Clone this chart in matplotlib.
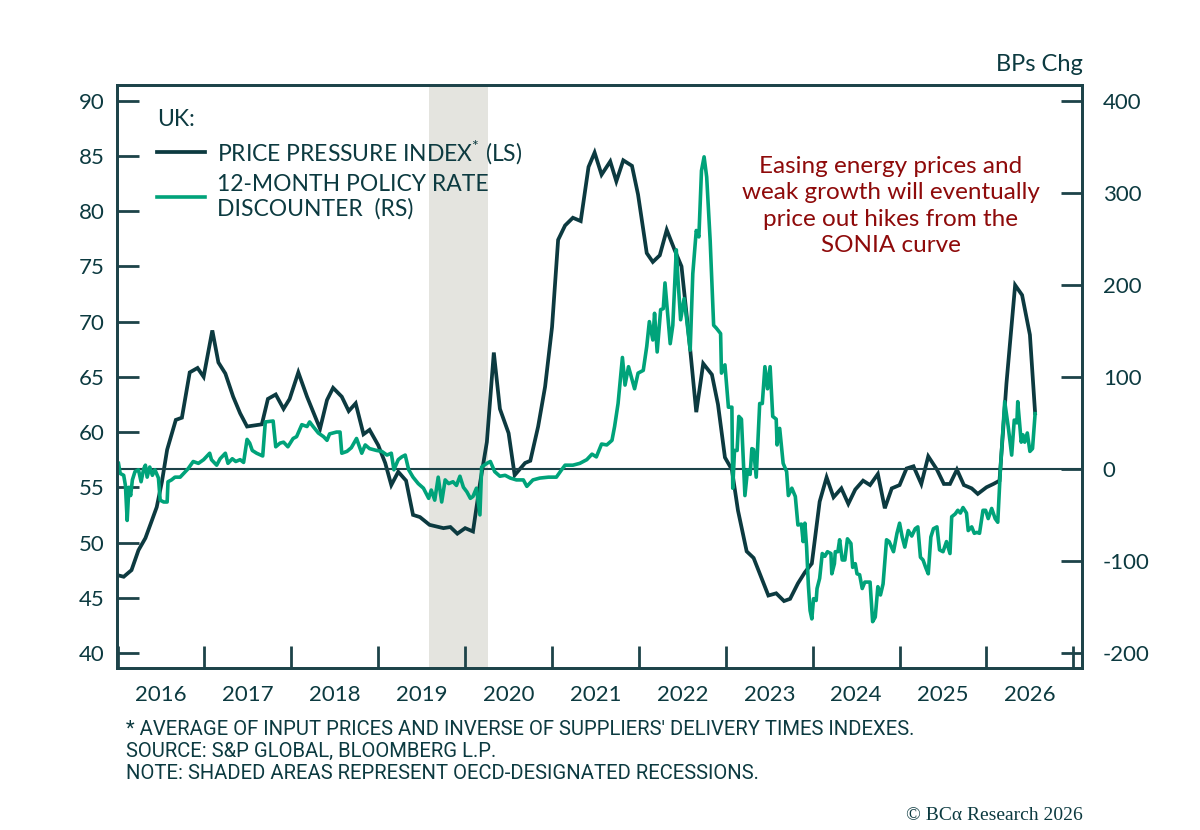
import matplotlib
matplotlib.use('Agg')
import matplotlib.pyplot as plt
import numpy as np

# --- data (decimal years) ---
ppi_t = [2016.02, 2016.07, 2016.16, 2016.24, 2016.32, 2016.39, 2016.45, 2016.51, 2016.57, 2016.67,
         2016.74, 2016.83, 2016.92, 2016.99, 2017.09, 2017.16, 2017.24, 2017.33, 2017.41, 2017.49,
         2017.66, 2017.73, 2017.82, 2017.91, 2017.98, 2018.08, 2018.18, 2018.33, 2018.41, 2018.48,
         2018.58, 2018.66, 2018.74, 2018.83, 2018.90, 2019.00, 2019.08, 2019.15, 2019.23, 2019.32,
         2019.40, 2019.48, 2019.59, 2019.75, 2019.83, 2019.91, 2020.00, 2020.09, 2020.17, 2020.25,
         2020.33, 2020.40, 2020.50, 2020.57, 2020.69, 2020.75, 2020.84, 2020.92, 2021.00, 2021.07,
         2021.15, 2021.24, 2021.33, 2021.42, 2021.49, 2021.57, 2021.67, 2021.74, 2021.82, 2021.92,
         2021.99, 2022.09, 2022.16, 2022.24, 2022.32, 2022.41, 2022.49, 2022.58, 2022.66, 2022.74,
         2022.84, 2022.91, 2022.99, 2023.07, 2023.14, 2023.24, 2023.32, 2023.40, 2023.49, 2023.58,
         2023.67, 2023.74, 2023.83, 2023.91, 2023.99, 2024.08, 2024.16, 2024.24, 2024.33, 2024.41,
         2024.49, 2024.58, 2024.66, 2024.75, 2024.83, 2024.91, 2025.00, 2025.08, 2025.16, 2025.25,
         2025.33, 2025.43, 2025.51, 2025.58, 2025.66, 2025.74, 2025.83, 2025.90, 2026.00, 2026.08,
         2026.15, 2026.23, 2026.33, 2026.41, 2026.50, 2026.56]
ppi_v = [47.0, 46.9, 47.5, 49.3, 50.4, 51.9, 53.2, 55.5, 58.4, 61.1,
         61.3, 65.4, 65.8, 65.0, 69.2, 66.3, 65.3, 63.2, 61.7, 60.5,
         60.7, 63.0, 63.4, 62.1, 63.0, 65.4, 63.2, 60.3, 62.9, 64.0,
         63.2, 61.9, 62.6, 59.8, 60.2, 58.8, 57.2, 55.2, 56.4, 55.6,
         52.5, 52.3, 51.6, 51.3, 51.4, 50.8, 51.3, 51.0, 55.3, 59.1,
         67.2, 62.1, 59.9, 56.1, 57.2, 57.4, 60.5, 64.1, 69.5, 77.4,
         78.7, 79.4, 79.1, 84.0, 85.3, 83.3, 84.5, 82.7, 84.6, 84.1,
         81.5, 76.2, 75.4, 76.0, 78.3, 76.5, 75.0, 68.3, 61.8, 66.2,
         65.2, 62.5, 57.7, 56.6, 52.9, 49.2, 48.6, 47.0, 45.2, 45.4,
         44.7, 44.9, 46.3, 47.3, 48.1, 53.7, 55.9, 54.1, 54.9, 53.5,
         54.8, 55.6, 55.2, 56.2, 53.1, 54.9, 55.2, 56.7, 56.9, 55.3,
         57.8, 56.6, 55.3, 55.3, 56.6, 55.2, 54.9, 54.4, 55.0, 55.3,
         55.6, 64.4, 73.3, 72.4, 68.8, 61.7]

disc_t = [2016.01, 2016.03, 2016.07, 2016.09, 2016.11, 2016.13, 2016.15, 2016.17, 2016.20, 2016.24,
          2016.27, 2016.30, 2016.32, 2016.34, 2016.37, 2016.40, 2016.43, 2016.47, 2016.49, 2016.53,
          2016.57, 2016.58, 2016.62, 2016.66, 2016.72, 2016.76, 2016.81, 2016.87, 2016.93, 2016.99,
          2017.06, 2017.08, 2017.14, 2017.18, 2017.24, 2017.27, 2017.32, 2017.36, 2017.41, 2017.45,
          2017.49, 2017.52, 2017.55, 2017.60, 2017.67, 2017.70, 2017.79, 2017.82, 2017.87, 2017.91,
          2017.96, 2018.02, 2018.06, 2018.12, 2018.18, 2018.21, 2018.25, 2018.31, 2018.37, 2018.41,
          2018.44, 2018.52, 2018.56, 2018.58, 2018.64, 2018.69, 2018.75, 2018.81, 2018.85, 2018.90,
          2018.98, 2019.04, 2019.10, 2019.15, 2019.18, 2019.23, 2019.27, 2019.31, 2019.35, 2019.40,
          2019.46, 2019.52, 2019.58, 2019.61, 2019.65, 2019.69, 2019.73, 2019.77, 2019.81, 2019.86,
          2019.90, 2019.94, 2019.98, 2020.02, 2020.06, 2020.09, 2020.13, 2020.17, 2020.19, 2020.25,
          2020.29, 2020.34, 2020.40, 2020.46, 2020.52, 2020.59, 2020.67, 2020.71, 2020.78, 2020.86,
          2020.96, 2021.05, 2021.11, 2021.15, 2021.24, 2021.32, 2021.40, 2021.46, 2021.51, 2021.57,
          2021.63, 2021.69, 2021.72, 2021.76, 2021.81, 2021.84, 2021.88, 2021.95, 2021.99, 2022.05,
          2022.09, 2022.12, 2022.16, 2022.18, 2022.21, 2022.25, 2022.28, 2022.30, 2022.33, 2022.36,
          2022.39, 2022.43, 2022.45, 2022.48, 2022.52, 2022.55, 2022.59, 2022.62, 2022.66, 2022.69,
          2022.72, 2022.75, 2022.78, 2022.82, 2022.86, 2022.89, 2022.94, 2022.95, 2022.99, 2023.03,
          2023.07, 2023.08, 2023.10, 2023.13, 2023.15, 2023.18, 2023.22, 2023.25, 2023.28, 2023.30,
          2023.32, 2023.35, 2023.39, 2023.42, 2023.45, 2023.48, 2023.51, 2023.54, 2023.58, 2023.59,
          2023.62, 2023.66, 2023.70, 2023.72, 2023.76, 2023.80, 2023.83, 2023.87, 2023.89, 2023.91,
          2023.93, 2023.95, 2023.97, 2023.99, 2024.01, 2024.04, 2024.05, 2024.08, 2024.11, 2024.14,
          2024.17, 2024.21, 2024.22, 2024.25, 2024.26, 2024.29, 2024.31, 2024.34, 2024.37, 2024.40,
          2024.44, 2024.46, 2024.49, 2024.51, 2024.54, 2024.57, 2024.60, 2024.66, 2024.69, 2024.72,
          2024.75, 2024.78, 2024.81, 2024.85, 2024.88, 2024.93, 2024.97, 2025.00, 2025.03, 2025.06,
          2025.10, 2025.14, 2025.18, 2025.21, 2025.24, 2025.27, 2025.30, 2025.33, 2025.36, 2025.39,
          2025.43, 2025.46, 2025.50, 2025.54, 2025.58, 2025.60, 2025.64, 2025.67, 2025.70, 2025.73,
          2025.77, 2025.79, 2025.83, 2025.86, 2025.89, 2025.92, 2025.96, 2025.99, 2026.02, 2026.06,
          2026.10, 2026.13, 2026.16, 2026.21, 2026.25, 2026.29, 2026.32, 2026.35, 2026.36, 2026.40,
          2026.42, 2026.44, 2026.47, 2026.50, 2026.53, 2026.56]
disc_v = [6, -5, -7, -18, -56, -20, -29, -12, -3, -1,
          -14, 0, 4, -9, 2, -7, -1, -10, -34, -36,
          -36, -14, -12, -9, -9, -5, 0, 8, 6, 10,
          17, 10, 4, 11, 17, 6, 11, 8, 10, 7,
          32, 28, 20, 17, 14, 51, 52, 24, 28, 29,
          24, 33, 35, 48, 46, 51, 46, 39, 35, 31,
          38, 40, 40, 17, 19, 23, 33, 17, 26, 22,
          20, 19, 15, 17, -1, 10, 13, 15, -1, -9,
          -16, -21, -32, -23, -34, -9, -36, -12, -16, -14,
          -18, -8, -20, -25, -32, -30, -21, -50, 2, 6,
          8, -3, -8, -7, -10, -12, -12, -19, -12, -10,
          -9, -9, -1, 4, 4, 6, 10, 16, 13, 27,
          26, 31, 46, 71, 121, 91, 111, 87, 104, 107,
          133, 160, 140, 169, 127, 173, 174, 202, 169, 136,
          156, 238, 205, 162, 185, 162, 129, 212, 259, 252,
          324, 339, 317, 248, 156, 153, 147, 104, 113, 67,
          67, -21, 20, 20, 57, 54, -29, -1, -6, 22,
          21, -9, 71, 71, 111, 87, 111, 57, 54, 26,
          44, 6, -3, -29, -21, -30, -61, -60, -79, -59,
          -85, -126, -154, -163, -141, -143, -130, -119, -92, -95,
          -90, -92, -114, -103, -90, -90, -77, -99, -99, -76,
          -81, -107, -103, -114, -115, -130, -123, -123, -166, -161,
          -128, -137, -125, -77, -79, -90, -70, -59, -74, -85,
          -67, -73, -65, -63, -96, -99, -107, -114, -74, -65,
          -63, -88, -90, -79, -92, -52, -49, -45, -48, -42,
          -48, -67, -63, -70, -69, -70, -45, -45, -54, -43,
          -54, -58, -1, 73, 46, 15, 53, 50, 73, 29,
          37, 29, 39, 19, 22, 60]

recession = (2019.58, 2020.26)
years = list(range(2016, 2027))
left_ticks = [40, 45, 50, 55, 60, 65, 70, 75, 80, 85, 90]
right_ticks = [-200, -100, 0, 100, 200, 300, 400]

DARK = '#0c3a40'
GREEN = '#00a37a'
AXC = '#1d4349'
RED = '#8e0a0a'
FONT = ['Lato', 'DejaVu Sans']

plt.rcParams['font.family'] = FONT
plt.rcParams['mathtext.fontset'] = 'custom'
plt.rcParams['mathtext.rm'] = 'Lato'
plt.rcParams['axes.unicode_minus'] = False

fig = plt.figure(figsize=(12, 8.3), dpi=100)
ax = fig.add_axes([0.0975, 0.1952, 0.8042, 0.7028])

ax.axvspan(*recession, color='#e4e4df', lw=0, zorder=0)
ax.plot(ppi_t, ppi_v, color=DARK, lw=2.7, zorder=3, solid_joinstyle='miter')

ylo, yhi = 38.64, 91.45
ax.set_ylim(ylo, yhi)
ax.set_xlim(2015.993, 2027.10)

ax2 = ax.twinx()
ax2.set_ylim((ylo - 40) * 12 - 200, (yhi - 40) * 12 - 200)
ax2.axhline(0, color=AXC, lw=1.5, zorder=1)
ax2.plot(disc_t, disc_v, color=GREEN, lw=2.6, zorder=2)

# x axis: ticks at year starts, labels mid-year
ax.set_xticks(years + [2027])
ax.set_xticklabels([])
ax.set_xticks([y + 0.5 for y in years], minor=True)
ax.set_xticklabels([str(y) for y in years], minor=True)
ax.tick_params(axis='x', which='major', direction='in', length=16, width=2, color=AXC)
ax.tick_params(axis='x', which='minor', length=0, pad=12, labelsize=16, labelcolor=DARK)

ax.set_yticks(left_ticks)
ax.tick_params(axis='y', direction='in', length=16, width=2, color=AXC, pad=9,
               labelsize=16, labelcolor=DARK)
ax2.set_yticks(right_ticks)
ax2.tick_params(axis='y', direction='in', length=15, width=2, color=AXC, pad=15,
                labelsize=16, labelcolor=DARK)

for a in (ax, ax2):
    for s in a.spines.values():
        s.set_color(AXC)
        s.set_linewidth(2)

# legend
leg = ax.legend(ax.get_lines()[:1] + ax2.get_lines()[1:],
                ['PRICE PRESSURE INDEX$^{*}$ (LS)', '12-MONTH POLICY RATE\nDISCOUNTER  (RS)'],
                title='UK:', loc='upper left', bbox_to_anchor=(0.032, 0.974), borderaxespad=0,
                frameon=False, fontsize=16.5, title_fontsize=16.5, handlelength=2.1,
                handletextpad=0.5, labelspacing=0.35, alignment='left')
for t in leg.get_texts():
    t.set_color(DARK)
leg.get_title().set_color(DARK)
leg.set_zorder(5)

ax.text(0.802, 0.878, 'Easing energy prices and\nweak growth will eventually\nprice out hikes from the\nSONIA curve',
        transform=ax.transAxes, ha='center', va='top', color=RED, fontsize=17.5, linespacing=1.32)

fig.text(0.9025, 0.922, 'BPs Chg', ha='right', va='center', color=DARK, fontsize=17)

notes = ["* AVERAGE OF INPUT PRICES AND INVERSE OF SUPPLIERS' DELIVERY TIMES INDEXES.",
         "SOURCE: S&P GLOBAL, BLOOMBERG L.P.",
         "NOTE: SHADED AREAS REPRESENT OECD-DESIGNATED RECESSIONS."]
for i, n in enumerate(notes):
    fig.text(126 / 1200, 1 - (729 + 22 * i) / 830, n, ha='left', va='center', color=DARK,
             fontsize=14.6, family=['Roboto', 'DejaVu Sans'])

fig.text(1083 / 1200, 1 - 815 / 830, '© BCα Research 2026', ha='right', va='center',
         color=DARK, fontsize=14, family=['Liberation Serif', 'DejaVu Serif'])

fig.savefig('out.png', dpi=100, facecolor='white')
